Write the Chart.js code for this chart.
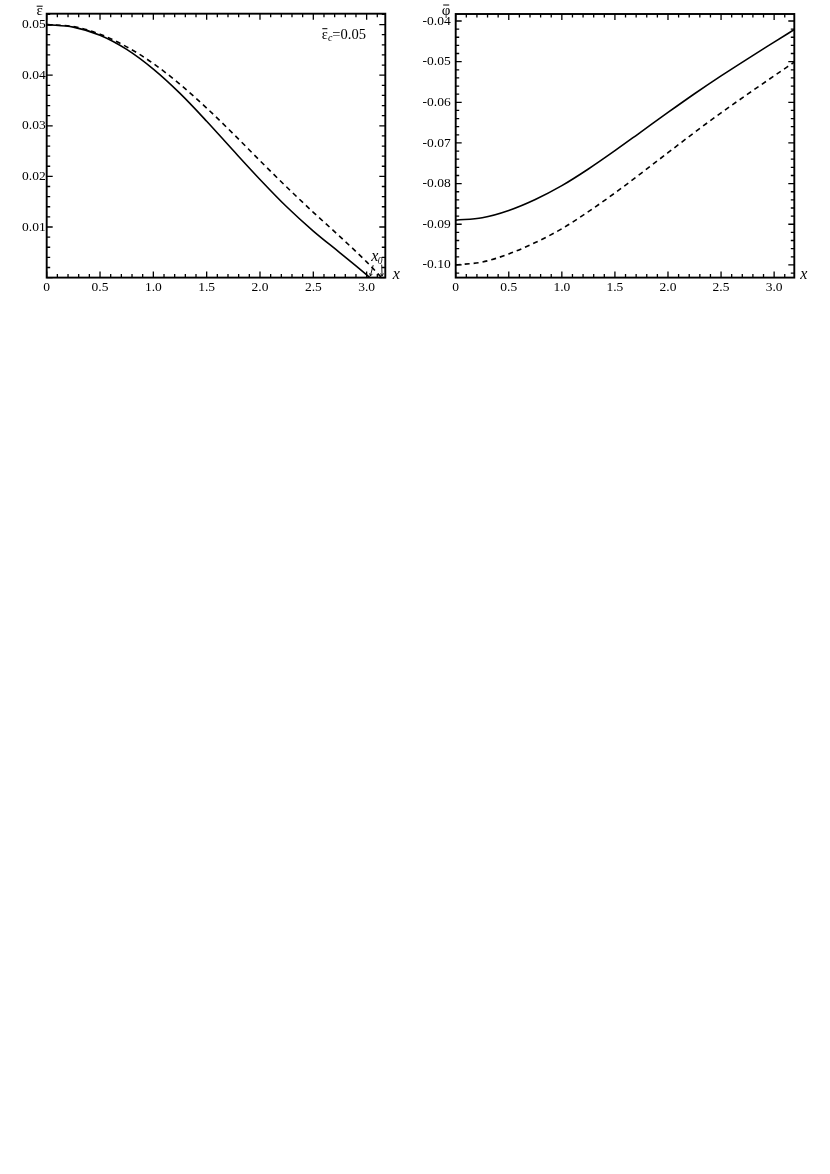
<!DOCTYPE html>
<html>
<head>
<meta charset="utf-8">
<script src="https://cdn.jsdelivr.net/npm/chart.js@4.4.1/dist/chart.umd.min.js"></script>
<style>
  html, body { margin: 0; padding: 0; background: #fff; }
  #page { position: relative; width: 830px; height: 1174px; background: #fff; }
  canvas { position: absolute; top: 0; }
</style>
</head>
<body>
<div id="page">
  <canvas id="epsChart" width="415" height="310" style="left:0px"></canvas>
  <canvas id="phiChart" width="415" height="310" style="left:415px"></canvas>
</div>
<script>
// left panel: eps(x), solid and dashed
const xEpsSolid = [0, 0.25, 0.5, 0.75, 1.0, 1.25, 1.5, 1.75, 2.0, 2.25, 2.5, 2.75, 2.9, 3.03];
const epsSolid  = [0.0500, 0.0495, 0.0479, 0.0451, 0.0412, 0.0364, 0.0309, 0.0251, 0.0194, 0.0140, 0.0092, 0.0049, 0.0023, 0.0000];
const xEpsDashed = [0, 0.25, 0.5, 0.75, 1.0, 1.25, 1.5, 1.75, 2.0, 2.25, 2.5, 2.75, 3.0, 3.14];
const epsDashed  = [0.0500, 0.0496, 0.0481, 0.0456, 0.0423, 0.0382, 0.0335, 0.0284, 0.0231, 0.0179, 0.0129, 0.0081, 0.0031, 0.0000];

// right panel: phi(x)
const xPhi      = [0, 0.25, 0.5, 0.75, 1.0, 1.25, 1.5, 1.75, 2.0, 2.25, 2.5, 2.75, 3.0, 3.19];
const phiSolid  = [-0.0890, -0.0884, -0.0866, -0.0839, -0.0805, -0.0764, -0.0719, -0.0672, -0.0625, -0.0579, -0.0535, -0.0493, -0.0452, -0.0421];
const phiDashed = [-0.1000, -0.0993, -0.0973, -0.0945, -0.0911, -0.0869, -0.0823, -0.0774, -0.0724, -0.0674, -0.0626, -0.0580, -0.0535, -0.0501];

const epsTicks = [0.01, 0.02, 0.03, 0.04, 0.05];
const phiTicks = [-0.10, -0.09, -0.08, -0.07, -0.06, -0.05, -0.04];
const xTicks = [0, 0.5, 1.0, 1.5, 2.0, 2.5, 3.0];

const SERIF = '"Liberation Serif", "Times New Roman", serif';
Chart.defaults.font.family = SERIF;
Chart.defaults.color = '#000';

const toPoints = (xs, ys) => xs.map((x, i) => ({ x: x, y: ys[i] }));

function lineSet(points, dashed) {
  return {
    data: points,
    borderColor: '#000',
    borderWidth: 1.6,
    borderDash: dashed ? [5, 4] : [],
    pointRadius: 0,
    fill: false,
    cubicInterpolationMode: 'monotone'
  };
}

// box around the plot, with inward major / minor ticks, plus titles
const framePlugin = {
  id: 'frame',
  afterDatasetsDraw(chart, args, opts) {
    const { ctx, chartArea: a, scales: { x, y } } = chart;
    ctx.save();
    ctx.strokeStyle = '#000';
    ctx.lineWidth = 1.9;
    ctx.strokeRect(a.left, a.top, a.right - a.left, a.bottom - a.top);

    ctx.lineWidth = 1.3;
    ctx.beginPath();
    const isMajor = (v, step) => Math.abs(v / step - Math.round(v / step)) < 1e-6;
    // x ticks, top and bottom
    for (let i = Math.ceil(x.min / opts.xMinor - 1e-6); i * opts.xMinor <= x.max + 1e-9; i++) {
      const v = i * opts.xMinor;
      const px = x.getPixelForValue(v);
      const len = isMajor(v, opts.xMajor) ? 6 : 3.5;
      ctx.moveTo(px, a.bottom); ctx.lineTo(px, a.bottom - len);
      ctx.moveTo(px, a.top); ctx.lineTo(px, a.top + len);
    }
    // y ticks, left and right
    for (let i = Math.ceil(y.min / opts.yMinor - 1e-6); i * opts.yMinor <= y.max + 1e-9; i++) {
      const v = i * opts.yMinor;
      const py = y.getPixelForValue(v);
      const len = isMajor(v, opts.yMajor) ? 6 : 3.5;
      ctx.moveTo(a.left, py); ctx.lineTo(a.left + len, py);
      ctx.moveTo(a.right, py); ctx.lineTo(a.right - len, py);
    }
    ctx.stroke();

    // y title with overbar
    ctx.fillStyle = '#000';
    ctx.font = '15px ' + SERIF;
    ctx.textAlign = 'center';
    ctx.textBaseline = 'alphabetic';
    const tx = a.left + opts.titleDx;
    ctx.fillText(opts.title, tx, a.top + opts.titleDy);
    ctx.lineWidth = 1;
    ctx.beginPath();
    ctx.moveTo(tx - 3, a.top + opts.barDy); ctx.lineTo(tx + 3, a.top + opts.barDy);
    ctx.stroke();

    // x title
    ctx.font = 'italic 16px ' + SERIF;
    ctx.fillText('x', a.right + opts.xTitleDx, a.bottom + 1.5);
    ctx.restore();
  }
};

// eps_c label and x0 markers (left panel only)
const notePlugin = {
  id: 'note',
  afterDatasetsDraw(chart) {
    const { ctx, chartArea: a, scales: { x, y } } = chart;
    ctx.save();
    ctx.fillStyle = '#000';
    ctx.strokeStyle = '#000';
    ctx.textBaseline = 'alphabetic';
    ctx.textAlign = 'left';

    let lx = a.right - 63.5;
    const by = a.top + 25.5;
    ctx.font = '14.5px ' + SERIF;
    ctx.fillText('ε', lx, by);
    const ew = ctx.measureText('ε').width;
    ctx.lineWidth = 1;
    ctx.beginPath();
    ctx.moveTo(lx + 0.5, by - 10.5); ctx.lineTo(lx + ew - 0.5, by - 10.5);
    ctx.stroke();
    lx += ew;
    ctx.font = 'italic 10px ' + SERIF;
    ctx.fillText('c', lx, by + 2);
    lx += ctx.measureText('c').width;
    ctx.font = '14.5px ' + SERIF;
    ctx.fillText('=0.05', lx, by);

    // x0 markers at the two roots
    const r1 = x.getPixelForValue(xEpsSolid[xEpsSolid.length - 1]);
    const r2 = x.getPixelForValue(xEpsDashed[xEpsDashed.length - 1]);
    const y0 = y.getPixelForValue(0);
    const mid = (r1 + r2) / 2;
    ctx.font = 'italic 16px ' + SERIF;
    ctx.textAlign = 'center';
    ctx.fillText('x', mid - 1, y0 - 17);
    ctx.font = 'italic 9.5px ' + SERIF;
    ctx.fillText('0', mid + 4.5, y0 - 14);

    ctx.lineWidth = 0.9;
    const arrow = (x1, y1, x2, y2) => {
      ctx.beginPath();
      ctx.moveTo(x1, y1); ctx.lineTo(x2, y2);
      const ang = Math.atan2(y2 - y1, x2 - x1);
      ctx.moveTo(x2, y2);
      ctx.lineTo(x2 - 3 * Math.cos(ang - 0.5), y2 - 3 * Math.sin(ang - 0.5));
      ctx.moveTo(x2, y2);
      ctx.lineTo(x2 - 3 * Math.cos(ang + 0.5), y2 - 3 * Math.sin(ang + 0.5));
      ctx.stroke();
    };
    arrow(mid - 2.5, y0 - 12.5, r1 + 0.5, y0 - 1.5);
    arrow(mid + 6, y0 - 13, r2 + 0.5, y0 - 1.5);
    ctx.restore();
  }
};

function axisX(max) {
  return {
    type: 'linear',
    min: 0,
    max: max,
    afterFit: s => { s.height = 32.4; },
    afterBuildTicks: s => { s.ticks = xTicks.map(v => ({ value: v })); },
    grid: { display: false, drawTicks: false },
    border: { display: false },
    ticks: {
      autoSkip: false, maxRotation: 0, padding: 2,
      font: { size: 13.5 },
      callback: v => (v === 0 ? '0' : v.toFixed(1))
    }
  };
}

function axisY(min, max, width, pad, tickList) {
  return {
    type: 'linear',
    min: min,
    max: max,
    afterFit: s => { s.width = width; },
    afterBuildTicks: s => { s.ticks = tickList.map(v => ({ value: v })); },
    grid: { display: false, drawTicks: false },
    border: { display: false },
    ticks: {
      autoSkip: false, padding: pad,
      font: { size: 13.5 },
      callback: v => v.toFixed(2)
    }
  };
}

new Chart(document.getElementById('epsChart'), {
  type: 'line',
  data: {
    datasets: [
      lineSet(toPoints(xEpsSolid, epsSolid), false),
      lineSet(toPoints(xEpsDashed, epsDashed), true)
    ]
  },
  options: {
    responsive: false,
    animation: false,
    devicePixelRatio: 1,
    layout: { padding: { left: 0, top: 13.7, right: 29.7, bottom: 0 } },
    plugins: {
      legend: { display: false },
      tooltip: { enabled: false },
      frame: { xMinor: 0.1, xMajor: 0.5, yMinor: 0.002, yMajor: 0.01,
               title: 'ε', titleDx: -7, titleDy: 1.5, barDy: -7.5, xTitleDx: 11 }
    },
    scales: {
      x: axisX(3.175),
      y: axisY(0, 0.05215, 46.7, 1, epsTicks)
    }
  },
  plugins: [framePlugin, notePlugin]
});

new Chart(document.getElementById('phiChart'), {
  type: 'line',
  data: {
    datasets: [
      lineSet(toPoints(xPhi, phiSolid), false),
      lineSet(toPoints(xPhi, phiDashed), true)
    ]
  },
  options: {
    responsive: false,
    animation: false,
    devicePixelRatio: 1,
    layout: { padding: { left: 0, top: 14, right: 35.7, bottom: 0 } },
    plugins: {
      legend: { display: false },
      tooltip: { enabled: false },
      frame: { xMinor: 0.1, xMajor: 0.5, yMinor: 0.002, yMajor: 0.01,
               title: 'φ', titleDx: -9.5, titleDy: 1, barDy: -9, xTitleDx: 9.5 }
    },
    scales: {
      x: axisX(3.19),
      y: axisY(-0.10312, -0.03828, 40.7, 5, phiTicks)
    }
  },
  plugins: [framePlugin]
});
</script>
</body>
</html>
